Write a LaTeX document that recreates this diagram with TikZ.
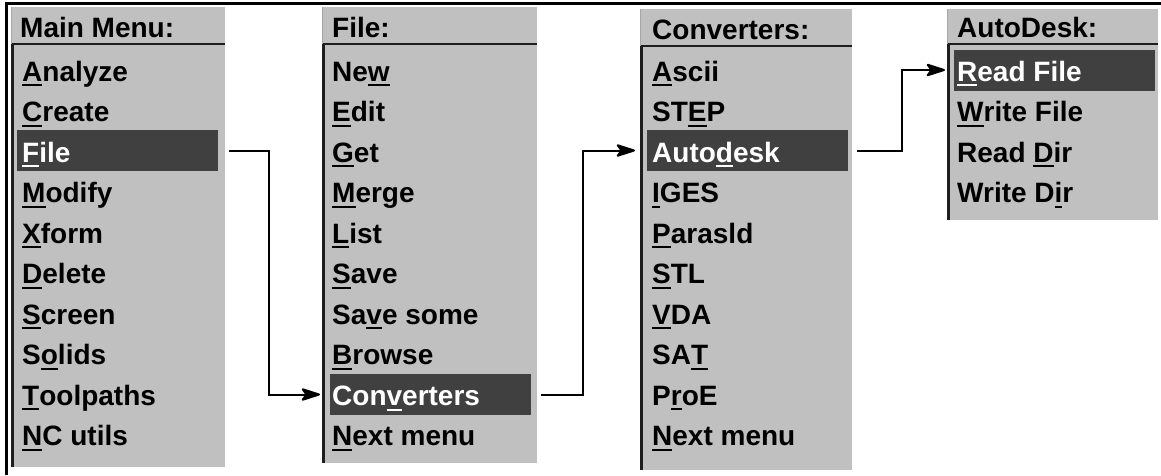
\documentclass[tikz,border=0pt]{standalone}
\usepackage{fontspec}
\setmainfont{Liberation Sans}
\usetikzlibrary{arrows.meta}
\definecolor{panelgray}{HTML}{C0C0C0}
\definecolor{hlgray}{HTML}{404040}
\definecolor{edgegray}{HTML}{1E1E1E}
\newcommand\ulk[1]{\setbox0\hbox{#1}\rlap{\rule[-5pt]{\wd0}{2pt}}\box0}
\begin{document}
\begin{tikzpicture}[x=1pt,y=-1pt,
  panel/.style={fill=panelgray, draw=none, anchor=north west, inner sep=0pt},
  sep/.style={edgegray, line width=2pt},
  item/.style={anchor=base west, inner sep=0pt, font=\fontsize{28}{30}\selectfont\bfseries, text=black},
  hlitem/.style={item, text=white},
  hl/.style={fill=hlgray, draw=none, anchor=west, inner sep=0pt, minimum height=41pt, minimum width=201pt},
  conn/.style={line width=2pt, draw=black, -{Stealth[length=22pt,width=14pt,inset=5pt,round]}}
]
\useasboundingbox (0,0) rectangle (1161,475);
% outer frame (top and left)
\draw[line width=3pt] (6,475) -- (6,3.5) -- (1161,3.5);

% panels
\node[panel, minimum width=214pt, minimum height=460pt] (pMain) at (11,7) {};
\node[panel, minimum width=215pt, minimum height=456pt] (pFile) at (322,7) {};
\node[panel, minimum width=212pt, minimum height=461pt] (pConv) at (640,9) {};
\node[panel, minimum width=211pt, minimum height=211pt] (pAuto) at (947,9) {};

% header separators and left edges
\draw[sep] (11,44) -- (225,44);  \draw[sep, line width=2.5pt] (12.5,44) -- (12.5,467);
\draw[sep] (322,44) -- (537,44); \draw[sep, line width=2.5pt] (323.5,44) -- (323.5,463);
\draw[sep] (640,46) -- (852,46); \draw[sep, line width=2.5pt] (641.5,46) -- (641.5,470);
\draw[sep] (947,44) -- (1158,44); \draw[sep, line width=2.5pt] (948.5,44) -- (948.5,220);
\draw[gray!70, line width=1pt] (11.5,7) -- (11.5,44);
\draw[gray!70, line width=1pt] (322.5,7) -- (322.5,44);
\draw[gray!70, line width=1pt] (640.5,9) -- (640.5,46);
\draw[gray!70, line width=1pt] (947.5,9) -- (947.5,44);

% highlights
\node[hl] (hFile) at (17,150.5) {};
\node[hl] (hConv) at (330,394.5) {};
\node[hl] (hAuto) at (647,150.5) {};
\node[hl] (hRead) at (954,70) {};

% Main Menu
\node[item] (mHead) at (20,37) {Main Menu:};
\node[item] (m1) at (22,81) {\ulk{A}nalyze};
\node[item] (m2) at (22,121.5) {\ulk{C}reate};
\node[hlitem] (m3) at (22,162) {\ulk{F}ile};
\node[item] (m4) at (22,202.5) {\ulk{M}odify};
\node[item] (m5) at (22,243) {\ulk{X}form};
\node[item] (m6) at (22,283.5) {\ulk{D}elete};
\node[item] (m7) at (22,324) {\ulk{S}creen};
\node[item] (m8) at (22,364.5) {S\ulk{o}lids};
\node[item] (m9) at (22,405) {\ulk{T}oolpaths};
\node[item] (m10) at (22,445.5) {\ulk{N}C utils};

% File
\node[item] (fHead) at (332,37) {File:};
\node[item] (f1) at (332,81) {Ne\ulk{w}};
\node[item] (f2) at (332,121.5) {\ulk{E}dit};
\node[item] (f3) at (332,162) {\ulk{G}et};
\node[item] (f4) at (332,202.5) {\ulk{M}erge};
\node[item] (f5) at (332,243) {\ulk{L}ist};
\node[item] (f6) at (332,283.5) {\ulk{S}ave};
\node[item] (f7) at (332,324) {Sa\ulk{v}e some};
\node[item] (f8) at (332,364.5) {\ulk{B}rowse};
\node[hlitem] (f9) at (332,405.5) {Con\ulk{v}erters};
\node[item] (f10) at (332,445.5) {\ulk{N}ext menu};

% Converters
\node[item] (cHead) at (652,39) {Converters:};
\node[item] (c1) at (652,81) {\ulk{A}scii};
\node[item] (c2) at (652,121.5) {ST\ulk{E}P};
\node[hlitem] (c3) at (652,162) {Auto\ulk{d}esk};
\node[item] (c4) at (652,202.5) {\ulk{I}GES};
\node[item] (c5) at (652,243) {\ulk{P}arasld};
\node[item] (c6) at (652,283.5) {\ulk{S}TL};
\node[item] (c7) at (652,324) {\ulk{V}DA};
\node[item] (c8) at (652,364.5) {SA\ulk{T}};
\node[item] (c9) at (652,405) {P\ulk{r}oE};
\node[item] (c10) at (652,445.5) {\ulk{N}ext menu};

% AutoDesk
\node[item] (aHead) at (957,37) {AutoDesk:};
\node[hlitem] (a1) at (957,81) {\ulk{R}ead File};
\node[item] (a2) at (957,121.5) {\ulk{W}rite File};
\node[item] (a3) at (957,162) {Read \ulk{D}ir};
\node[item] (a4) at (957,202.5) {Write D\ulk{i}r};

% connectors
\draw[conn] ([xshift=11pt]hFile.east) -- ++(40,0) |- ([xshift=-10pt]hConv.west);
\draw[conn] ([xshift=10pt]hConv.east) -- ++(42,0) |- ([xshift=-12pt]hAuto.west);
\draw[conn] ([xshift=9pt]hAuto.east) -- ++(45,0) |- ([xshift=-9pt]hRead.west);
\end{tikzpicture}
\end{document}
